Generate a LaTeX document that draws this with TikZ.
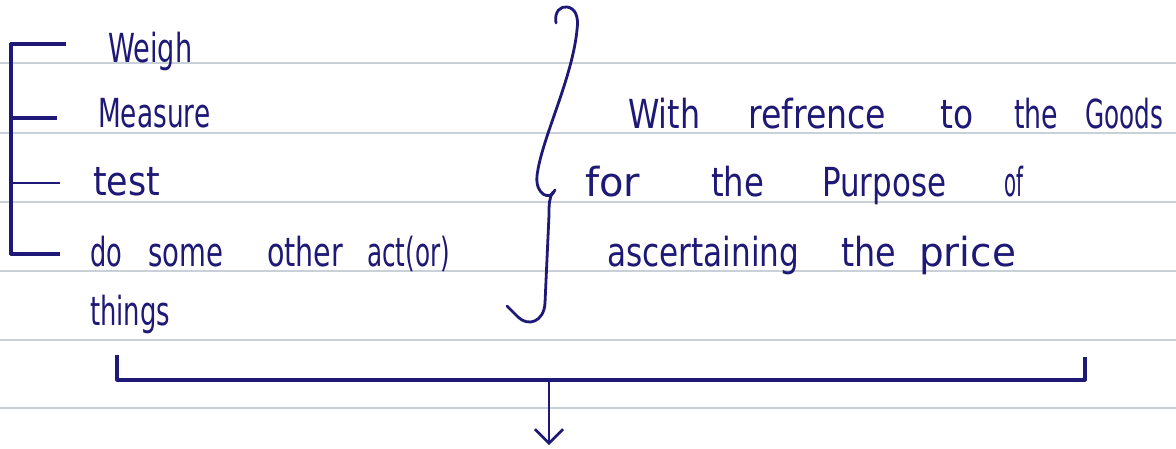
\documentclass[tikz,border=0pt]{standalone}
\usepackage{fontspec}
\setmainfont{DejaVu Sans}
\usepackage{graphicx}
\usetikzlibrary{arrows.meta}
\definecolor{ink}{RGB}{30,24,118}
\definecolor{rule}{RGB}{202,208,216}
\newcommand\hw[2]{\resizebox{#1pt}{\height}{#2}}
\newcommand\gap[1]{\hspace{#1pt}}
\tikzset{
  ruled/.style={draw=rule,line width=1.6pt},
  pen/.style={draw=ink,line width=3.2pt,line cap=round,line join=round},
  hand/.style={text=ink,inner sep=0pt,anchor=base west,font=\fontsize{40}{46}\selectfont}
}
\begin{document}
\begin{tikzpicture}[x=1pt,y=-1pt]
\useasboundingbox (0,0) rectangle (1176,448);
\fill[white] (0,0) rectangle (1176,448);
% ruled paper lines
\foreach \yy in {63,133,202,271,340,408}
  \draw[ruled] (0,\yy) -- (1176,\yy);

% left bracket
\coordinate (lt) at (11,44);
\coordinate (lb) at (11,254);
\draw[pen,line cap=butt] (66,44) -- (lt) -- (lb) -- (60,254);
\draw[pen,line cap=butt] (11,118) -- (57,118);
\draw[pen,line cap=butt,line width=2.3pt] (11,183) -- (60,183);

% left texts
\node[hand] (weigh) at (108,62) {\hw{84}{Weigh}};
\node[hand] (measure) at (98,127) {\hw{112}{Measure}};
\node[hand] (test) at (93,195) {\hw{67}{test}};
\node[hand] (other) at (90,266) {\hw{32}{do}\gap{26}\hw{75}{some}\gap{44}\hw{76}{other}\gap{24}\hw{83}{act(or)}};
\node[hand] (things) at (90,325) {\hw{80}{things}};

% curly brace
\draw[pen,line width=2.8pt] (556,23) .. controls (554,11) and (561,6) .. (567,7)
  .. controls (575,8) and (579,16) .. (577,30)
  .. controls (572,80) and (541,140) .. (537,176)
  .. controls (535,194) and (550,202) .. (555,190);
\draw[pen,line width=2.8pt] (553,192) .. controls (549,198) and (549,205) .. (549,215)
  -- (545,303)
  .. controls (544,322) and (528,327) .. (518,317)
  -- (507,306);

% right texts
\node[hand] (line1) at (628,128) {\hw{72}{With}\gap{48}\hw{138}{refrence}\gap{54}\hw{33}{to}\gap{41}\hw{44}{the}\gap{27}\hw{78}{Goods}};
\node[hand] (line2) at (585,196) {\hw{55}{for}\gap{71}\hw{53}{the}\gap{58}\hw{124}{Purpose}\gap{58}\hw{19}{of}};
\node[hand] (line3) at (607,266) {\hw{192}{ascertaining}\gap{42}\hw{55}{the}\gap{23}\hw{97}{price}};

% bottom bracket and arrow
\coordinate (bl) at (117,355);
\coordinate (br) at (1085,357);
\coordinate (mid) at (549,380);
\coordinate (down) at (549,445);
\draw[pen,line cap=butt] (bl) -- (117,380) -- (1085,380) -- (br);
\draw[pen,line width=2.5pt,-{Straight Barb[length=14pt,width=28pt,line width=2.5pt]}] (mid) -- (down);
\end{tikzpicture}
\end{document}
